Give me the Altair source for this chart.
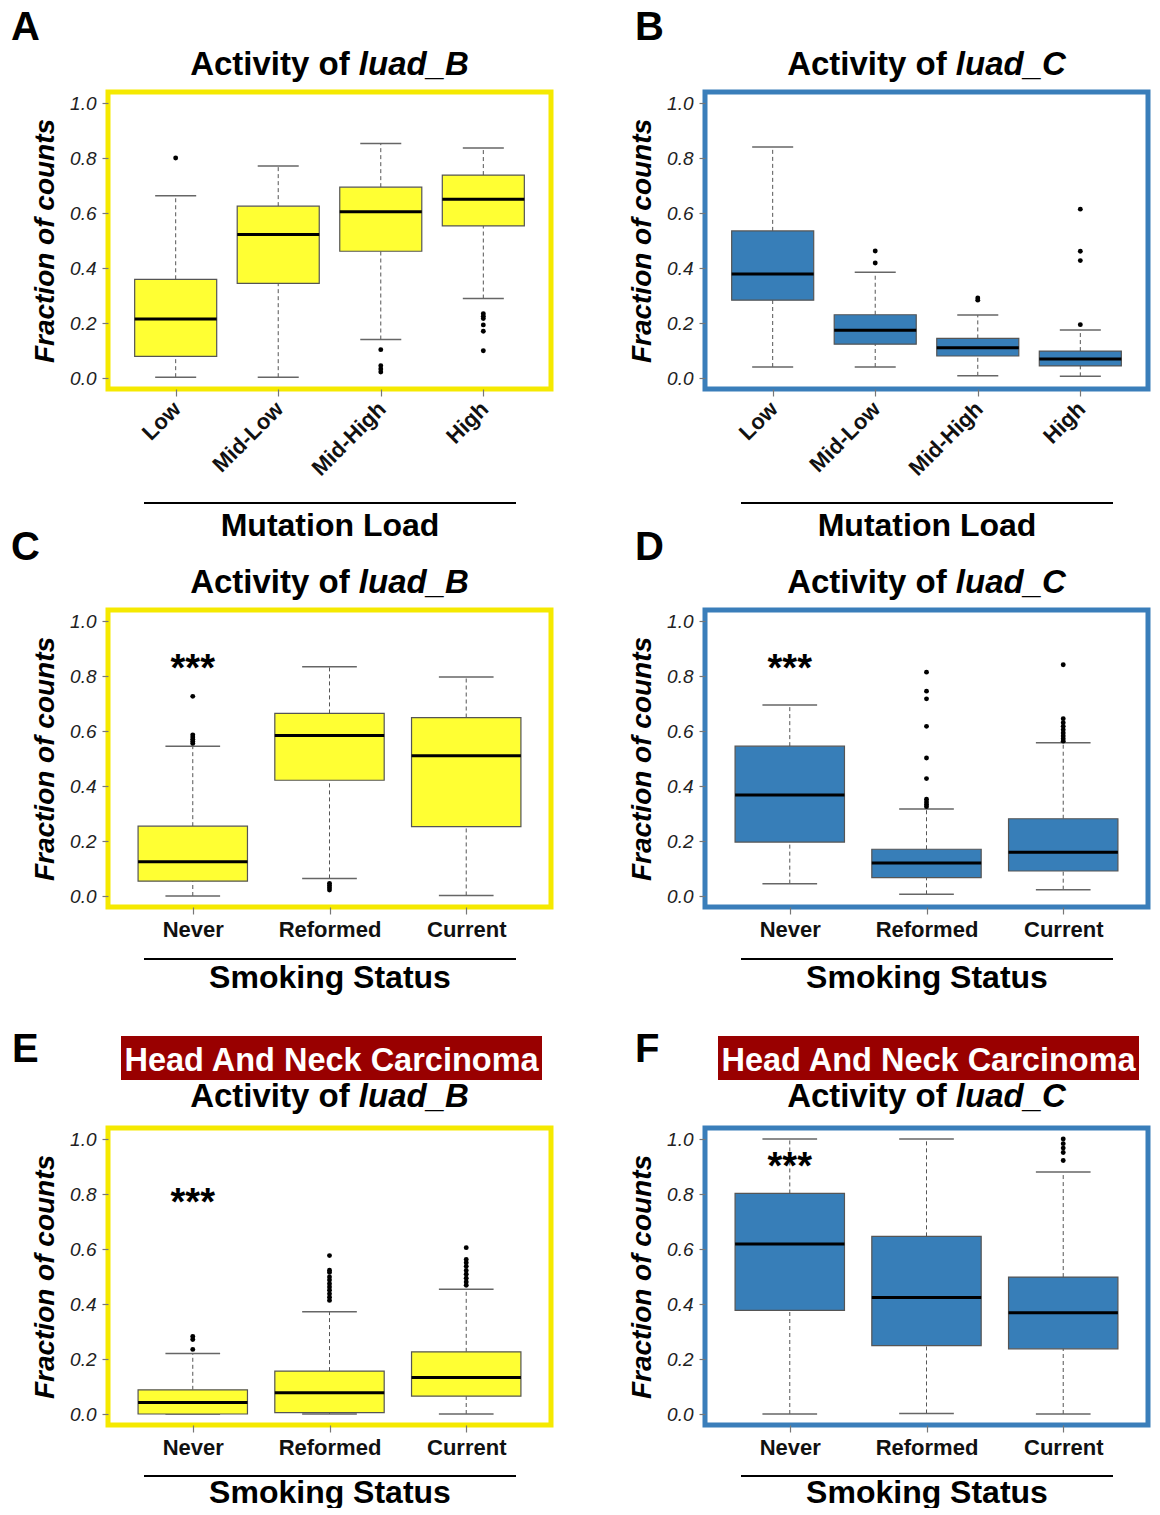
import json
import altair as alt
import pandas as pd

FONT = "Liberation Sans"

# ---------------- data ----------------
MUTATION_CATS = ["Low", "Mid-Low", "Mid-High", "High"]
SMOKING_CATS = ["Never", "Reformed", "Current"]
SIGNATURES = ["luad_B", "luad_C"]
CANCER_LABEL = "Head And Neck Carcinoma"
PANEL_LETTERS = ["A", "B", "C", "D", "E", "F"]
Y_TICKS = [0.0, 0.2, 0.4, 0.6, 0.8, 1.0]

# Panel A: luad_B vs mutation load
A_LOWER = [0.003, 0.003, 0.140, 0.289]
A_Q1 = [0.079, 0.344, 0.461, 0.553]
A_MED = [0.215, 0.522, 0.605, 0.650]
A_Q3 = [0.359, 0.625, 0.694, 0.738]
A_UPPER = [0.663, 0.771, 0.853, 0.836]
A_OUT = [[0.80], [], [0.103, 0.045, 0.033, 0.022], [0.234, 0.225, 0.216, 0.193, 0.170, 0.099]]

# Panel B: luad_C vs mutation load
B_LOWER = [0.040, 0.040, 0.008, 0.006]
B_Q1 = [0.283, 0.123, 0.080, 0.044]
B_MED = [0.378, 0.174, 0.110, 0.069]
B_Q3 = [0.535, 0.230, 0.144, 0.098]
B_UPPER = [0.840, 0.385, 0.229, 0.175]
B_OUT = [[], [0.462, 0.418], [0.291, 0.283], [0.614, 0.461, 0.427, 0.194]]

# Panel C: luad_B vs smoking status
C_LOWER = [0.000, 0.064, 0.002]
C_Q1 = [0.054, 0.421, 0.252]
C_MED = [0.125, 0.584, 0.510]
C_Q3 = [0.254, 0.664, 0.649]
C_UPPER = [0.545, 0.834, 0.796]
C_OUT = [[0.726, 0.586, 0.578, 0.570, 0.562, 0.555], [0.046, 0.038, 0.030, 0.022], []]

# Panel D: luad_C vs smoking status
D_LOWER = [0.045, 0.006, 0.023]
D_Q1 = [0.196, 0.067, 0.091]
D_MED = [0.367, 0.120, 0.159]
D_Q3 = [0.545, 0.170, 0.281]
D_UPPER = [0.695, 0.316, 0.557]
D_OUT = [[], [0.814, 0.745, 0.717, 0.617, 0.502, 0.427, 0.352, 0.342, 0.333, 0.325],
         [0.841, 0.645, 0.630, 0.617, 0.605, 0.593, 0.582, 0.572, 0.563]]

# Panel E: head and neck, luad_B vs smoking status
E_LOWER = [0.000, 0.000, 0.000]
E_Q1 = [0.000, 0.005, 0.065]
E_MED = [0.042, 0.077, 0.133]
E_Q3 = [0.088, 0.156, 0.226]
E_UPPER = [0.220, 0.372, 0.454]
E_OUT = [[0.282, 0.271, 0.235],
         [0.576, 0.523, 0.515, 0.498, 0.487, 0.474, 0.462, 0.450, 0.437, 0.425, 0.413],
         [0.605, 0.562, 0.550, 0.537, 0.522, 0.508, 0.494, 0.480, 0.468]]

# Panel F: head and neck, luad_C vs smoking status
F_LOWER = [0.000, 0.002, 0.000]
F_Q1 = [0.377, 0.249, 0.237]
F_MED = [0.618, 0.424, 0.368]
F_Q3 = [0.802, 0.646, 0.498]
F_UPPER = [1.000, 1.000, 0.880]
F_OUT = [[], [], [1.000, 0.983, 0.967, 0.951, 0.922]]

# significance marks (category index, y)
SIG_C = (1, 0.86)
SIG_D = (1, 0.86)
SIG_E = (1, 0.80)
SIG_F = (1, 0.93)

# ---------------- styles ----------------
YELLOW_FILL = "#FFFF33"
YELLOW_FRAME = "#F5E900"
BLUE_FILL = "#377EB8"
BLUE_FRAME = "#3A7EBA"
BANNER_FILL = "#990000"
W, H = 443, 297
TITLE_SIZE = 33


def panel(letter, letter_dx, letter_dy, cats, lower, q1, med, q3, upper, outliers,
          fill, frame, signature, xtitle, rotate, sig=None, banner=False,
          title_dy=-17, line_dy=114, xtitle_dy=146):
    n = len(cats)
    pos = list(range(1, n + 1))
    box = pd.DataFrame({"cat": cats, "pos": pos, "lo": lower, "q1": q1,
                        "med": med, "q3": q3, "hi": upper})
    box["xl"] = box["pos"] - 0.4
    box["xr"] = box["pos"] + 0.4
    box["cl"] = box["pos"] - 0.2
    box["cr"] = box["pos"] + 0.2
    rows = [{"pos": p, "val": v} for p, vals in zip(pos, outliers) for v in vals]
    out = pd.DataFrame(rows, columns=["pos", "val"])
    one = pd.DataFrame({"k": [0]})

    ext = 0.5 + 0.04 * n
    xscale = alt.Scale(domain=[1 - ext, n + ext], nice=False, zero=False)
    yscale = alt.Scale(domain=[-0.04, 1.04], nice=False, zero=False)

    xaxis = alt.Axis(
        values=pos, labelExpr=json.dumps(cats) + "[datum.value - 1]",
        title=xtitle, grid=False, domain=False, ticks=True, tickSize=7,
        tickColor="#777777", tickWidth=1.2, labelFont=FONT,
        labelFontSize=22, labelFontWeight="bold", labelColor="#111111",
        labelAngle=-45 if rotate else 0, labelAlign="right" if rotate else "center",
        labelBaseline="middle" if rotate else "top", labelPadding=9 if rotate else 5,
        labelOffset=1 if rotate else 0,
        labelOverlap=False, labelFlush=False,
        titleFont=FONT, titleFontSize=32, titleFontWeight="bold", titleColor="black",
        titleBaseline="alphabetic", titleY=xtitle_dy, titleX=W / 2, titleAlign="center",
    )
    yaxis = alt.Axis(
        values=Y_TICKS, format=".1f", grid=False, domain=False, tickSize=6,
        tickColor="#777777", tickWidth=1.2, labelFont=FONT, labelFontSize=19,
        labelFontStyle="italic", labelColor="#222222", labelPadding=6,
        labelOverlap=False, labelFlush=False,
        title="Fraction of counts", titleFont=FONT, titleFontSize=28,
        titleFontWeight="bold", titleFontStyle="italic", titleColor="black",
        titleAngle=-90, titleBaseline="alphabetic", titleX=-55, titleY=H / 2,
        titleAlign="center",
    )

    def X(f):
        return alt.X(f, type="quantitative", scale=xscale, axis=xaxis)

    def Y(f):
        return alt.Y(f, type="quantitative", scale=yscale, axis=yaxis)

    base = alt.Chart(box)
    whisk_lo = base.mark_rule(color="#555555", strokeWidth=1, strokeDash=[4, 3]).encode(
        x=X("pos"), y=Y("lo"), y2="q1")
    whisk_hi = base.mark_rule(color="#555555", strokeWidth=1, strokeDash=[4, 3]).encode(
        x=X("pos"), y=Y("q3"), y2="hi")
    cap_lo = base.mark_rule(color="#666666", strokeWidth=1.5).encode(
        x=X("cl"), x2="cr", y=Y("lo"))
    cap_hi = base.mark_rule(color="#666666", strokeWidth=1.5).encode(
        x=X("cl"), x2="cr", y=Y("hi"))
    rect = base.mark_rect(fill=fill, stroke="#555555", strokeWidth=1.2).encode(
        x=X("xl"), x2="xr", y=Y("q1"), y2="q3")
    median = base.mark_rule(color="black", strokeWidth=3).encode(
        x=X("xl"), x2="xr", y=Y("med"))
    pts = alt.Chart(out).mark_circle(color="black", size=24, opacity=1).encode(
        x=X("pos"), y=Y("val"))

    layers = [whisk_lo, whisk_hi, cap_lo, cap_hi, rect, median, pts]

    if sig is not None:
        sdf = pd.DataFrame({"pos": [sig[0]], "val": [sig[1]], "lab": ["***"]})
        layers.append(alt.Chart(sdf).mark_text(
            font=FONT, fontSize=38, fontWeight="bold", color="black",
            baseline="alphabetic", align="center", dy=21).encode(
            x=X("pos"), y=Y("val"), text="lab:N"))

    # title "Activity of <italic signature>" centred over the plot
    w_head = 5.112 * TITLE_SIZE   # "Activity of " incl. space
    w_sig = 3.334 * TITLE_SIZE    # italic signature name
    split = W / 2 - (w_head + w_sig) / 2 + w_head
    deco = alt.Chart(one)
    layers.append(deco.mark_text(
        text="Activity of", font=FONT, fontSize=TITLE_SIZE, fontWeight="bold", color="black",
        align="right", baseline="alphabetic").encode(
        x=alt.value(split - 0.278 * TITLE_SIZE), y=alt.value(title_dy)))
    layers.append(deco.mark_text(
        text=signature, font=FONT, fontSize=TITLE_SIZE, fontWeight="bold", fontStyle="italic",
        color="black", align="left", baseline="alphabetic").encode(
        x=alt.value(split), y=alt.value(title_dy)))
    layers.append(deco.mark_text(
        text=letter, font=FONT, fontSize=40, fontWeight="bold", color="black",
        align="left", baseline="alphabetic").encode(
        x=alt.value(letter_dx), y=alt.value(letter_dy)))
    layers.append(deco.mark_rule(color="black", strokeWidth=2).encode(
        x=alt.value(36), x2=alt.value(408), y=alt.value(H + line_dy)))
    if banner:
        layers.append(deco.mark_rect(fill=BANNER_FILL).encode(
            x=alt.value(13), x2=alt.value(434), y=alt.value(-92), y2=alt.value(-48)))
        layers.append(deco.mark_text(
            text=CANCER_LABEL, font=FONT, fontSize=32.5, fontWeight="bold", color="white",
            align="center", baseline="alphabetic").encode(
            x=alt.value(223.5), y=alt.value(-57)))

    return alt.layer(*layers).properties(
        width=W, height=H,
        view=alt.ViewBackground(stroke=frame, strokeWidth=5, fill="white"),
    )


pA = panel(PANEL_LETTERS[0], -97, -52, MUTATION_CATS, A_LOWER, A_Q1, A_MED, A_Q3, A_UPPER, A_OUT,
           YELLOW_FILL, YELLOW_FRAME, SIGNATURES[0], "Mutation Load", True)
pB = panel(PANEL_LETTERS[1], -70, -52, MUTATION_CATS, B_LOWER, B_Q1, B_MED, B_Q3, B_UPPER, B_OUT,
           BLUE_FILL, BLUE_FRAME, SIGNATURES[1], "Mutation Load", True)
pC = panel(PANEL_LETTERS[2], -97, -50, SMOKING_CATS, C_LOWER, C_Q1, C_MED, C_Q3, C_UPPER, C_OUT,
           YELLOW_FILL, YELLOW_FRAME, SIGNATURES[0], "Smoking Status", False, sig=SIG_C,
           line_dy=52, xtitle_dy=80)
pD = panel(PANEL_LETTERS[3], -70, -50, SMOKING_CATS, D_LOWER, D_Q1, D_MED, D_Q3, D_UPPER, D_OUT,
           BLUE_FILL, BLUE_FRAME, SIGNATURES[1], "Smoking Status", False, sig=SIG_D,
           line_dy=52, xtitle_dy=80)
pE = panel(PANEL_LETTERS[4], -96, -66, SMOKING_CATS, E_LOWER, E_Q1, E_MED, E_Q3, E_UPPER, E_OUT,
           YELLOW_FILL, YELLOW_FRAME, SIGNATURES[0], "Smoking Status", False, sig=SIG_E,
           banner=True, title_dy=-21, line_dy=51, xtitle_dy=77)
pF = panel(PANEL_LETTERS[5], -70, -66, SMOKING_CATS, F_LOWER, F_Q1, F_MED, F_Q3, F_UPPER, F_OUT,
           BLUE_FILL, BLUE_FRAME, SIGNATURES[1], "Smoking Status", False, sig=SIG_F,
           banner=True, title_dy=-21, line_dy=51, xtitle_dy=77)

chart = alt.concat(
    pA, pB, pC, pD, pE, pF, columns=2,
    spacing=alt.RowColnumber(row=221, column=154), bounds="flush",
).properties(
    padding={"left": 0, "top": -3, "right": 0, "bottom": -3},
    background="white",
).configure_view(stroke=None)

chart.save("out.html", embed_options={"renderer": "svg", "actions": False})
